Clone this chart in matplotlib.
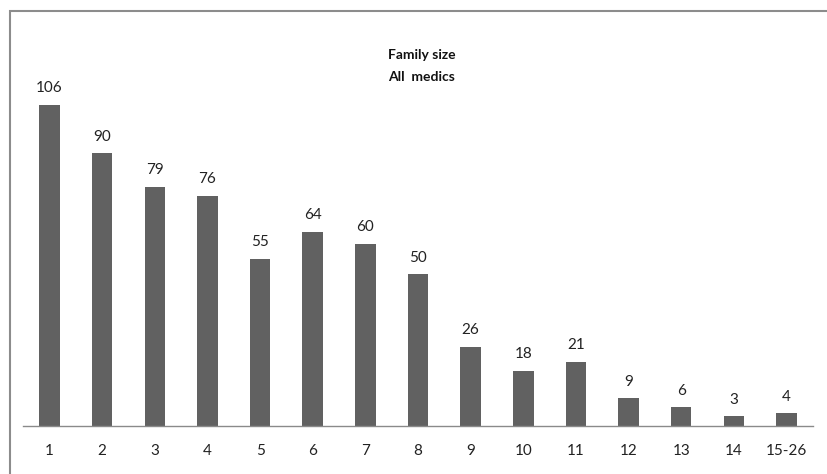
import matplotlib
matplotlib.use("Agg")
import matplotlib.pyplot as plt
from matplotlib.patches import Rectangle

categories = ["1", "2", "3", "4", "5", "6", "7", "8", "9", "10", "11", "12", "13", "14", "15-26"]
counts = [106, 90, 79, 76, 55, 64, 60, 50, 26, 18, 21, 9, 6, 3, 4]

W, H = 828, 474
fig = plt.figure(figsize=(W / 100, H / 100), dpi=100)
plt.rcParams["font.family"] = ["Lato", "DejaVu Sans"]

# outer chart frame (runs off the right and bottom edges)
fig.patches.append(Rectangle((9.5 / W, -0.1), 2.0, (H - 10.5) / H + 0.1,
                             transform=fig.transFigure, fill=False,
                             edgecolor="#8c8c8c", linewidth=1.5))

step = 52.64
left_px = 49.5 - step / 2
right_px = 786.5 + step / 2
bottom = (H - 425.5) / H
ymax = 120
height = ymax * 3.025 / H
ax = fig.add_axes([left_px / W, bottom, (right_px - left_px) / W, height])

x = range(len(categories))
ax.bar(x, counts, width=0.39, color="#616161")
ax.set_xlim(-0.5, len(categories) - 0.5)
ax.set_ylim(0, ymax)

for xi, v in zip(x, counts):
    ax.annotate(str(v), (xi, v), xytext=(0, 7), textcoords="offset points",
                ha="center", va="bottom", fontsize=11, color="#222222")

for s in ["top", "right", "left"]:
    ax.spines[s].set_visible(False)
ax.spines["bottom"].set_color("#8a8a8a")
ax.spines["bottom"].set_linewidth(1.0)
ax.set_yticks([])
ax.set_xticks(list(x))
ax.set_xticklabels(categories, fontsize=11, color="#222222")
ax.tick_params(axis="x", length=0, pad=13)

fig.text(422 / W, 1 - 55 / H, "Family size", ha="center", va="center",
         fontsize=10, fontweight="bold", color="#111111")
fig.text(422 / W, 1 - 77 / H, "All  medics", ha="center", va="center",
         fontsize=10, fontweight="bold", color="#111111")

fig.savefig("out.png", dpi=100)
